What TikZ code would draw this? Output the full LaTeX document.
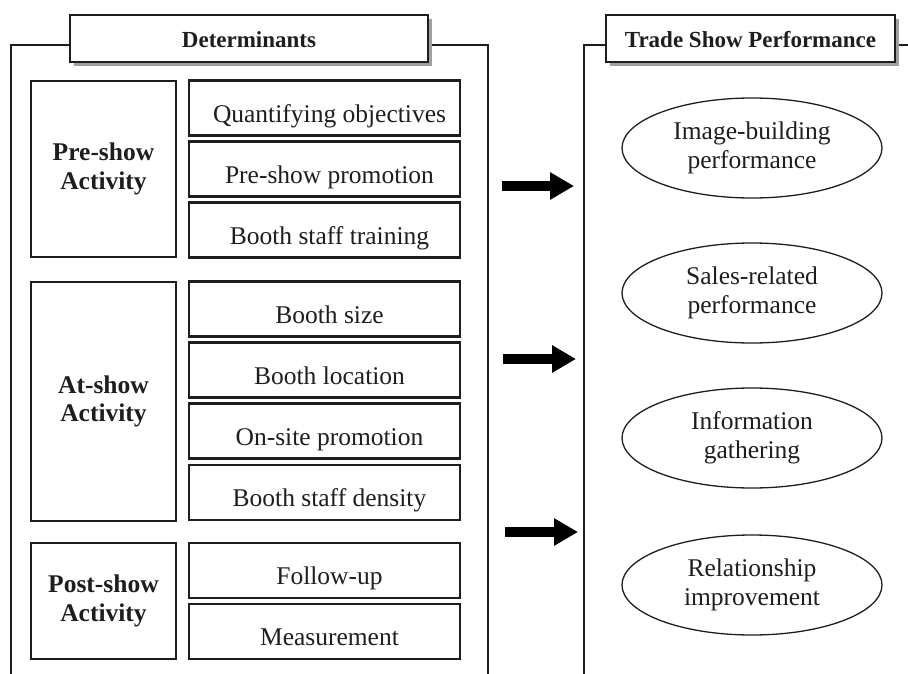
\documentclass[tikz,border=0pt]{standalone}
\usepackage{fontspec}
\setmainfont{Liberation Serif}
\usetikzlibrary{arrows.meta,shapes.geometric,shadows}
\definecolor{ink}{HTML}{1E1E1E}
\begin{document}
\begin{tikzpicture}[x=1pt,y=-1pt,
  frame/.style={draw=ink,line width=2.2pt},
  titlebox/.style={draw=ink,line width=2.2pt,fill=white,minimum height=47pt,
    inner sep=0pt,font=\fontsize{23}{27}\selectfont\bfseries,text=ink,
    text height=18pt,text depth=0pt,
    general shadow={shadow xshift=3.5pt,shadow yshift=-3.5pt,fill=gray!75}},
  groupbox/.style={draw=ink,line width=2.2pt,minimum width=145pt,inner sep=0pt,
    align=center,font=\fontsize{25.5}{28.5}\selectfont\bfseries,text=ink},
  itembox/.style={draw=ink,line width=2.2pt,minimum width=271pt,minimum height=55pt,
    inner sep=0pt,font=\fontsize{25.5}{29}\selectfont,text=ink,
    text height=28pt,text depth=0pt,
    execute at begin node={\hspace*{10pt}}},
  outcome/.style={ellipse,draw=ink,line width=1.3pt,minimum width=260pt,
    minimum height=100pt,inner sep=0pt,align=center,
    font=\fontsize{25.5}{29}\selectfont,text=ink},
  fatarrow/.style={draw=black,line width=10pt,
    -{Triangle[length=24pt 0,width=26pt 0]}}]
\useasboundingbox (0,0) rectangle (908,673);

% outer frames, open at the bottom
\draw[frame] (11,676) -- (11,45) -- (72,45);
\draw[frame] (426,45) -- (488,45) -- (488,676);
\draw[frame] (584,676) -- (584,45) -- (608,45);
\draw[frame] (893,45) -- (912,45);

% frame titles
\node[titlebox,minimum width=358pt] (det) at (249,38.5) {Determinants};
\node[titlebox,minimum width=289pt] (tsp) at (750.5,38.5) {Trade Show Performance};

% activity groups
\node[groupbox,minimum height=176pt] (pre) at (103.5,169) {Pre-show\\Activity};
\node[groupbox,minimum height=239pt] (at) at (103.5,401.5) {At-show\\Activity};
\node[groupbox,minimum height=116pt] (post) at (103.5,601) {Post-show\\Activity};

% determinant items
\node[itembox] (q1) at (324.5,108) {Quantifying objectives};
\node[itembox] (q2) at (324.5,169) {Pre-show promotion};
\node[itembox] (q3) at (324.5,230) {Booth staff training};
\node[itembox] (a1) at (324.5,309) {Booth size};
\node[itembox] (a2) at (324.5,370) {Booth location};
\node[itembox] (a3) at (324.5,431) {On-site promotion};
\node[itembox] (a4) at (324.5,492.5) {Booth staff density};
\node[itembox] (p1) at (324.5,570.5) {Follow-up};
\node[itembox] (p2) at (324.5,631.5) {Measurement};

% performance dimensions
\node[outcome] (o1) at (752,148) {Image-building\\performance};
\node[outcome] (o2) at (752,293) {Sales-related\\performance};
\node[outcome] (o3) at (752,438) {Information\\gathering};
\node[outcome] (o4) at (752,585) {Relationship\\improvement};

% arrows between the two frames
\coordinate (s1) at (502,186);  \coordinate (e1) at (574,186);
\coordinate (s2) at (503,359);  \coordinate (e2) at (576,359);
\coordinate (s3) at (505,532);  \coordinate (e3) at (578,532);
\draw[fatarrow] (s1) -- (e1);
\draw[fatarrow] (s2) -- (e2);
\draw[fatarrow] (s3) -- (e3);
\end{tikzpicture}
\end{document}
